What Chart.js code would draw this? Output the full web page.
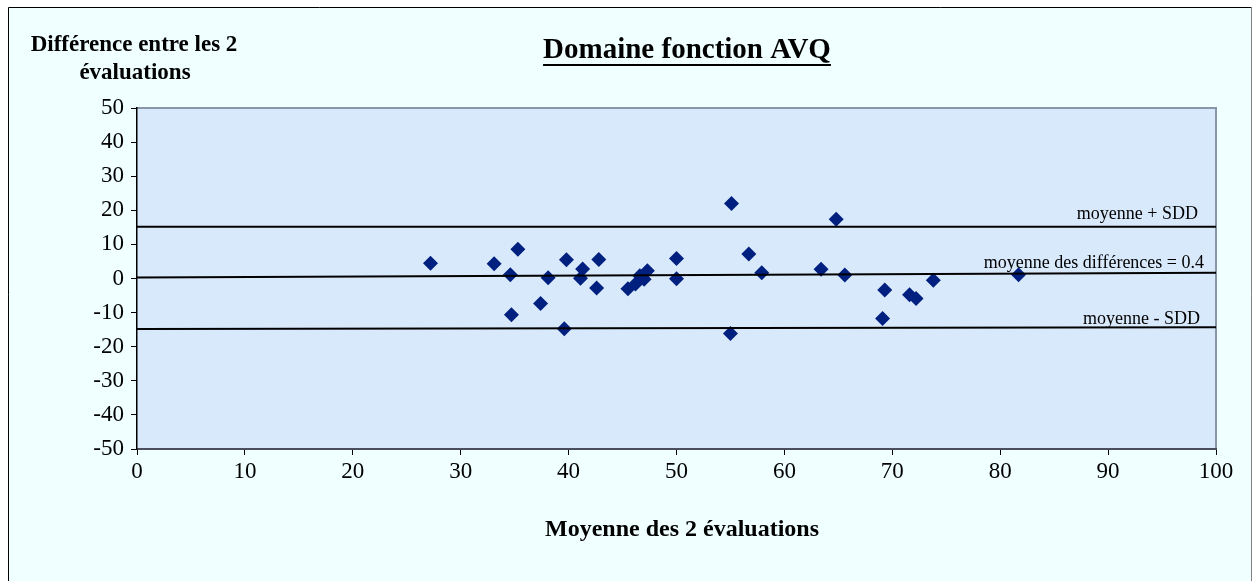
<!DOCTYPE html>
<html>
<head>
<meta charset="utf-8">
<script src="https://cdn.jsdelivr.net/npm/chart.js@4"></script>
<style>
  html, body { margin: 0; padding: 0; background: #fff; }
  #wrap { width: 1253px; height: 581px; }
</style>
</head>
<body>
<div id="wrap"><canvas id="bland"></canvas></div>
<script>
// moyenne des 2 évaluations
const moyennes = [27.2, 33.1, 34.6, 34.7, 35.3, 37.4, 38.1, 39.6, 39.8, 41.1, 41.3, 42.6, 42.8,
  45.5, 46.2, 46.6, 47.0, 47.3, 50.0, 50.0, 55.0, 55.1, 56.7, 57.9, 63.4, 64.8, 65.6,
  69.1, 69.3, 71.6, 72.2, 73.8, 81.7];
// différence entre les 2 évaluations
const differences = [4.5, 4.3, 1.1, -10.6, 8.6, -7.3, 0.2, -14.7, 5.5, 0.1, 2.8, -2.8, 5.6,
  -3.0, -1.6, 0.8, -0.2, 2.3, 5.9, -0.1, -16.1, 22.0, 7.2, 1.7, 2.7, 17.4, 1.0,
  -11.7, -3.4, -4.8, -5.9, -0.5, 1.1];

// lignes de référence, valeur à x=0 et x=100
const lineX = [0, 100];
const upperLine = [15.2, 15.2];
const meanLine = [0.3, 1.7];
const lowerLine = [-14.8, -14.3];
const lineLabels = ['moyenne + SDD', 'moyenne des différences = 0.4', 'moyenne - SDD'];

const xTicks = [0, 10, 20, 30, 40, 50, 60, 70, 80, 90, 100];
const yTicks = [-50, -40, -30, -20, -10, 0, 10, 20, 30, 40, 50];

const serif = '"Liberation Serif", "Times New Roman", serif';
const points = moyennes.map((m, i) => ({ x: m, y: differences[i] }));
const toLine = vals => lineX.map((x, i) => ({ x: x, y: vals[i] }));

const lineStyle = {
  type: 'line',
  borderColor: '#000',
  borderWidth: 2,
  pointRadius: 0,
  fill: false
};

// fond, cadre et textes
const decor = {
  id: 'decor',
  beforeDraw(chart) {
    const ctx = chart.ctx;
    const a = chart.chartArea;
    ctx.save();
    ctx.fillStyle = '#fff';
    ctx.fillRect(0, 0, chart.width, chart.height);
    ctx.fillStyle = '#F0FFFF';
    ctx.fillRect(8, 7, 1244, 574);
    ctx.strokeStyle = '#000';
    ctx.lineWidth = 1;
    ctx.beginPath();
    ctx.moveTo(8.5, 581); ctx.lineTo(8.5, 7.5); ctx.lineTo(1251.5, 7.5);
    ctx.stroke();
    ctx.strokeStyle = '#808080';
    ctx.beginPath();
    ctx.moveTo(1251.5, 7.5); ctx.lineTo(1251.5, 581);
    ctx.stroke();
    ctx.fillStyle = '#D9E9FC';
    ctx.fillRect(a.left, a.top, a.right - a.left, a.bottom - a.top);
    ctx.strokeStyle = '#8A96A8';
    ctx.lineWidth = 2;
    ctx.beginPath();
    ctx.moveTo(a.left, a.top); ctx.lineTo(a.right, a.top); ctx.lineTo(a.right, a.bottom);
    ctx.stroke();
    ctx.restore();
  },
  afterDraw(chart) {
    const ctx = chart.ctx;
    ctx.save();
    ctx.fillStyle = '#000';
    ctx.textBaseline = 'middle';
    ctx.textAlign = 'center';

    ctx.font = 'bold 29px ' + serif;
    const title = 'Domaine fonction AVQ';
    ctx.fillText(title, 687, 51);
    const w = ctx.measureText(title).width;
    ctx.fillRect(687 - w / 2, 64, w, 2);

    ctx.font = 'bold 23px ' + serif;
    ctx.fillText('Différence entre les 2', 134, 45);
    ctx.fillText('évaluations', 135, 73);
    ctx.font = 'bold 24px ' + serif;
    ctx.fillText('Moyenne des 2 évaluations', 682, 530);

    ctx.font = '18px ' + serif;
    ctx.textAlign = 'right';
    ctx.fillText(lineLabels[0], 1198, 214);
    ctx.fillText(lineLabels[1], 1204, 263);
    ctx.fillText(lineLabels[2], 1200, 319);
    ctx.restore();
  }
};

new Chart(document.getElementById('bland'), {
  data: {
    datasets: [
      Object.assign({ data: toLine(upperLine) }, lineStyle),
      Object.assign({ data: toLine(meanLine) }, lineStyle),
      Object.assign({ data: toLine(lowerLine) }, lineStyle),
      {
        type: 'scatter',
        data: points,
        pointStyle: 'rectRot',
        pointRadius: 7.5,
        pointBackgroundColor: '#002080',
        pointBorderWidth: 0
      }
    ]
  },
  options: {
    responsive: true,
    maintainAspectRatio: false,
    animation: false,
    layout: { padding: { top: 108, right: 37, left: 0, bottom: 0 } },
    plugins: { legend: { display: false }, tooltip: { enabled: false } },
    scales: {
      x: {
        type: 'linear',
        min: 0, max: 100,
        afterBuildTicks: s => { s.ticks = xTicks.map(v => ({ value: v })); },
        afterFit: s => { s.height = 132; },
        border: { color: '#4A4E5C', width: 2 },
        grid: { drawOnChartArea: false, tickLength: 6, color: '#000' },
        ticks: { color: '#000', font: { family: serif, size: 23 }, padding: 3, maxRotation: 0 }
      },
      y: {
        type: 'linear',
        min: -50, max: 50,
        afterBuildTicks: s => { s.ticks = yTicks.map(v => ({ value: v })); },
        afterFit: s => { s.width = 137; },
        border: { color: '#000', width: 1.5 },
        grid: { drawOnChartArea: false, tickLength: 6, color: '#000' },
        ticks: { color: '#000', font: { family: serif, size: 23 }, padding: 7 }
      }
    }
  },
  plugins: [decor]
});
</script>
</body>
</html>
